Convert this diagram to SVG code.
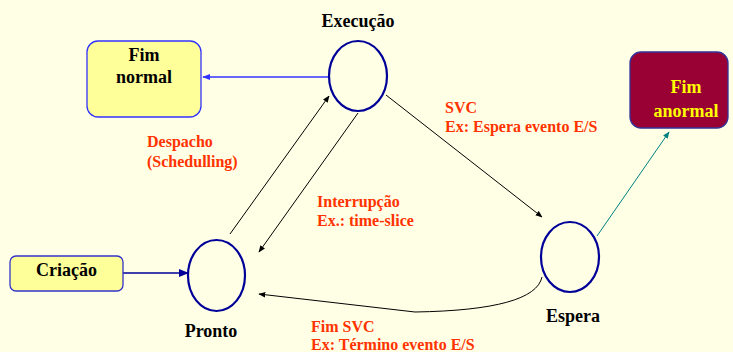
<svg xmlns="http://www.w3.org/2000/svg" width="733" height="352" viewBox="0 0 733 352">
<style>
.lbl{font-family:"Liberation Serif","Times New Roman",serif;font-weight:bold;font-size:18px;fill:#000;text-anchor:middle}
.red{font-family:"Liberation Serif","Times New Roman",serif;font-weight:bold;font-size:16px;fill:#FF3300}
.state{fill:none;stroke:#000099;stroke-width:2.2}
.k{stroke:#000;stroke-width:1;fill:none}
</style>
<defs>
<marker id="ak" viewBox="0 0 10 10" refX="9" refY="5" markerWidth="7" markerHeight="7" markerUnits="userSpaceOnUse" orient="auto"><path d="M0,1 L10,5 L0,9 z" fill="#000"/></marker>
<marker id="ab" viewBox="0 0 10 10" refX="9" refY="5" markerWidth="8" markerHeight="8" markerUnits="userSpaceOnUse" orient="auto"><path d="M0,1 L10,5 L0,9 z" fill="#3333FF"/></marker>
<marker id="an" viewBox="0 0 10 10" refX="9" refY="5" markerWidth="10" markerHeight="10" markerUnits="userSpaceOnUse" orient="auto"><path d="M0,1 L10,5 L0,9 z" fill="#000099"/></marker>
<marker id="at" viewBox="0 0 10 10" refX="9" refY="5" markerWidth="7" markerHeight="7" markerUnits="userSpaceOnUse" orient="auto"><path d="M0,1 L10,5 L0,9 z" fill="#008080"/></marker>
</defs>
<rect width="733" height="352" fill="#FFFFE6"/>
<g id="connectors">
<line x1="329" y1="77" x2="203" y2="77" stroke="#3333FF" stroke-width="1.3" marker-end="url(#ab)"/>
<line x1="123" y1="273" x2="188" y2="273" stroke="#000099" stroke-width="1.6" marker-end="url(#an)"/>
<line class="k" x1="230" y1="234" x2="329" y2="96" marker-end="url(#ak)"/>
<line class="k" x1="358" y1="113" x2="259" y2="252" marker-end="url(#ak)"/>
<line class="k" x1="386" y1="95" x2="542" y2="217" marker-end="url(#ak)"/>
<path class="k" d="M542,277 Q535,310 415,312 L259,294" marker-end="url(#ak)"/>
<line x1="597" y1="236" x2="669" y2="132" stroke="#008080" stroke-width="1" marker-end="url(#at)"/>
</g>
<g id="fim-normal">
<rect x="87" y="41" width="114" height="76" rx="11" fill="#FFFF99" stroke="#3333FF" stroke-width="1.3"/>
<text class="lbl" x="144" y="61">Fim</text>
<text class="lbl" x="144" y="83">normal</text>
</g>
<g id="fim-anormal">
<rect x="630" y="52" width="98" height="76" rx="11" fill="#990033" stroke="#333399" stroke-width="1.3"/>
<text class="lbl" x="686" y="93" style="fill:#FFFF00">Fim</text>
<text class="lbl" x="686" y="117" style="fill:#FFFF00">anormal</text>
</g>
<g id="criacao">
<rect x="10" y="256" width="113" height="35" rx="6" fill="#FFFF99" stroke="#3333CC" stroke-width="1.3"/>
<text class="lbl" x="66.5" y="276">Criação</text>
</g>
<g id="execucao">
<ellipse class="state" cx="358" cy="76" rx="29" ry="35"/>
<text class="lbl" x="358" y="27">Execução</text>
</g>
<g id="pronto">
<ellipse class="state" cx="216.5" cy="275.5" rx="28.5" ry="35.5"/>
<text class="lbl" x="211" y="337">Pronto</text>
</g>
<g id="espera">
<ellipse class="state" cx="570" cy="257" rx="29" ry="35"/>
<text class="lbl" x="573" y="322">Espera</text>
</g>
<g id="labels">
<text class="red" x="147" y="147">Despacho</text>
<text class="red" x="147" y="167">(Schedulling)</text>
<text class="red" x="317" y="207">Interrupção</text>
<text class="red" x="317" y="226">Ex.: time-slice</text>
<text class="red" x="445" y="113">SVC</text>
<text class="red" x="445" y="132">Ex: Espera evento E/S</text>
<text class="red" x="311" y="332">Fim SVC</text>
<text class="red" x="311" y="350">Ex: Término evento E/S</text>
</g>
</svg>
